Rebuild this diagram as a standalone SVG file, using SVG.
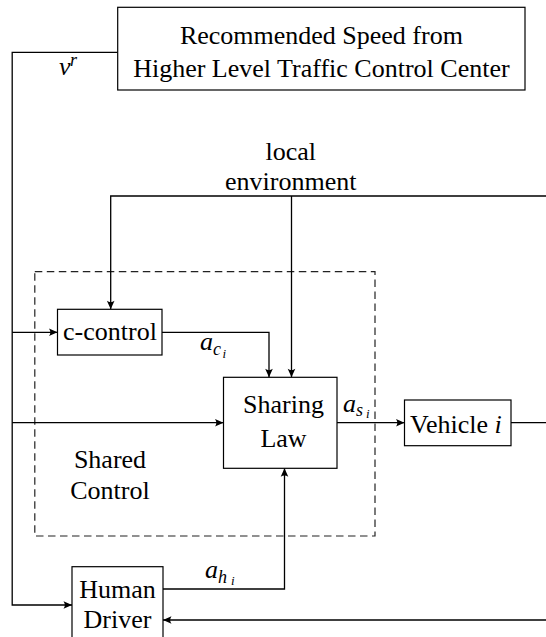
<svg xmlns="http://www.w3.org/2000/svg" width="546" height="637" viewBox="0 0 546 637">
  <defs>
    <!-- stealth-style arrowhead shared by all signal lines -->
    <marker id="arrow" viewBox="-9 -5 10 10" refX="0" refY="0" markerWidth="10" markerHeight="10" markerUnits="userSpaceOnUse" orient="auto">
      <path d="M0,0 L-8.5,-3.8 Q-5.8,0 -8.5,3.8 Z" fill="#000"/>
    </marker>
    <style>
      .box { fill: #fff; stroke: #000; stroke-width: 1.2; }
      .wire { fill: none; stroke: #000; stroke-width: 1.3; }
      .arr { marker-end: url(#arrow); }
      .dash { fill: none; stroke: #222; stroke-width: 1.2; stroke-dasharray: 7.5 4.5; }
      text { font-family: "Liberation Serif", "Times New Roman", serif; fill: #000; }
      .lbl { font-size: 26px; }
      .mid { text-anchor: middle; }
      .math { font-style: italic; }
    </style>
  </defs>

  <rect fill="#fff" x="0" y="0" width="546" height="637"/>

  <!-- shared-control boundary -->
  <g id="shared-control">
    <rect class="dash" x="34.8" y="271.7" width="340.2" height="264.3"/>
    <text class="lbl mid" x="110" y="468.3">Shared</text>
    <text class="lbl mid" x="110" y="499.3">Control</text>
  </g>

  <!-- connectors -->
  <g id="connectors">
    <!-- recommended speed v^r distributed along the left bus -->
    <path class="wire arr" d="M117.7,52.3 H12.2 V605 H72"/>
    <path class="wire arr" d="M12.2,332.3 H57.5"/>
    <path class="wire arr" d="M12.2,422.7 H223.5"/>
    <!-- local environment -->
    <path class="wire arr" d="M546,196 H110.7 V309.3"/>
    <path class="wire arr" d="M291.5,196 V377.3"/>
    <!-- c-control output -->
    <path class="wire arr" d="M162,332.3 H269 V377.3"/>
    <!-- sharing law output -->
    <path class="wire arr" d="M337,422.7 H404.5"/>
    <!-- vehicle output -->
    <path class="wire" d="M511,422.7 H546"/>
    <!-- human driver output -->
    <path class="wire arr" d="M163,589 H284.5 V468.3"/>
    <!-- feedback to driver -->
    <path class="wire arr" d="M546,620 H163"/>

    <!-- signal labels -->
    <text class="math" x="59" y="75" font-size="26">v<tspan x="70" y="66" font-size="18">r</tspan></text>
    <text class="math" x="200" y="350" font-size="26">a<tspan x="213" y="355" font-size="18">c</tspan><tspan x="222.5" y="357.5" font-size="13">i</tspan></text>
    <text class="math" x="343" y="411.7" font-size="26">a<tspan x="356" y="415.5" font-size="18">s</tspan><tspan x="366" y="417.5" font-size="13">i</tspan></text>
    <text class="math" x="205" y="578.3" font-size="26">a<tspan x="218" y="583" font-size="18">h</tspan><tspan x="231" y="585" font-size="13">i</tspan></text>
  </g>

  <g id="traffic-center">
    <rect class="box" x="117.7" y="7.3" width="407.3" height="82.7"/>
    <text class="lbl mid" x="321.4" y="44.3">Recommended Speed from</text>
    <text class="lbl mid" x="321.4" y="77.3">Higher Level Traffic Control Center</text>
  </g>

  <g id="local-environment">
    <text class="lbl mid" x="290.7" y="160">local</text>
    <text class="lbl mid" x="290.7" y="190">environment</text>
  </g>

  <g id="c-control">
    <rect class="box" x="57.5" y="309.3" width="104.5" height="45.7"/>
    <text class="lbl mid" x="110" y="340">c-control</text>
  </g>

  <g id="sharing-law">
    <rect class="box" x="223.5" y="377.3" width="113.5" height="91"/>
    <text class="lbl mid" x="283.5" y="413.3">Sharing</text>
    <text class="lbl mid" x="283.5" y="446.7">Law</text>
  </g>

  <g id="vehicle">
    <rect class="box" x="404.5" y="400" width="106.5" height="45.7"/>
    <text class="lbl" x="410" y="433">Vehicle <tspan font-style="italic">i</tspan></text>
  </g>

  <g id="human-driver">
    <rect class="box" x="72" y="566.7" width="91" height="80"/>
    <text class="lbl mid" x="117.5" y="598.3">Human</text>
    <text class="lbl mid" x="117.5" y="628.3">Driver</text>
  </g>
</svg>
